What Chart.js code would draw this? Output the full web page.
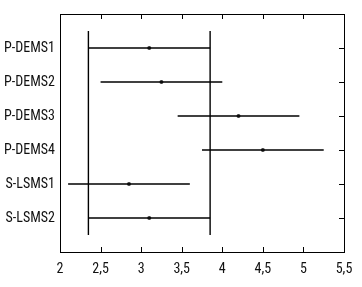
<!DOCTYPE html>
<html><head><meta charset="utf-8">
<script src="https://cdn.jsdelivr.net/npm/chart.js@4"></script>
<style>html,body{margin:0;padding:0;background:#fff}</style>
</head><body>
<canvas id="c" width="362" height="287"></canvas>
<script>
const categories = ['P-DEMS1','P-DEMS2','P-DEMS3','P-DEMS4','S-LSMS1','S-LSMS2'];
const means = [3.1, 3.25, 4.2, 4.5, 2.85, 3.1];
const lower = [2.35, 2.5, 3.45, 3.75, 2.1, 2.35];
const upper = [3.85, 4.0, 4.95, 5.25, 3.6, 3.85];
const refLines = [2.35, 3.85];
const refSpan = [0.5, 6.5];
const xMin = 2, xMax = 5.5, xStep = 0.5;

const FONT = "Roboto, sans-serif";

const datasets = [];
categories.forEach((c, i) => {
  datasets.push({
    data: [{x: lower[i], y: i + 1}, {x: upper[i], y: i + 1}],
    showLine: true, borderColor: '#000', borderWidth: 1.4, pointRadius: 0
  });
});
refLines.forEach(v => {
  datasets.push({
    data: [{x: v, y: refSpan[0]}, {x: v, y: refSpan[1]}],
    showLine: true, borderColor: '#000', borderWidth: 1.4, pointRadius: 0
  });
});
datasets.push({
  data: means.map((m, i) => ({x: m, y: i + 1})),
  showLine: false, pointRadius: 2, pointBackgroundColor: '#333', pointBorderWidth: 0
});

const frame = {
  id: 'frame',
  afterDraw(chart) {
    const {ctx, chartArea: a, scales} = chart;
    ctx.save();
    ctx.strokeStyle = '#000';
    ctx.lineWidth = 1;
    ctx.strokeRect(Math.round(a.left) + 0.5, Math.round(a.top) + 0.5, Math.round(a.right - a.left), Math.round(a.bottom - a.top));
    ctx.beginPath();
    scales.x.ticks.forEach(t => {
      const px = Math.round(scales.x.getPixelForValue(t.value)) + 0.5;
      ctx.moveTo(px, a.bottom); ctx.lineTo(px, a.bottom - 5);
      ctx.moveTo(px, a.top); ctx.lineTo(px, a.top + 5);
    });
    scales.y.ticks.forEach(t => {
      const py = Math.round(scales.y.getPixelForValue(t.value)) + 0.5;
      ctx.moveTo(a.right, py); ctx.lineTo(a.right - 5, py);
    });
    ctx.stroke();
    ctx.restore();
  }
};

new Chart(document.getElementById('c'), {
  type: 'scatter',
  data: {datasets},
  options: {
    responsive: false,
    animation: false,
    layout: {padding: {left: 0, top: 14, right: 18, bottom: 0}},
    plugins: {legend: {display: false}, tooltip: {enabled: false}},
    scales: {
      x: {
        type: 'linear', min: xMin, max: xMax,
        grid: {display: false, drawTicks: false}, border: {display: false},
        afterFit: s => { s.height = 35; },
        ticks: {
          stepSize: xStep, padding: 9, color: '#111', maxRotation: 0,
          font: {family: FONT, size: 14, weight: 'condensed'},
          callback: v => String(v).replace('.', ',')
        }
      },
      y: {
        type: 'linear', reverse: true, min: 0, max: 7,
        grid: {display: false, drawTicks: false}, border: {display: false},
        afterFit: s => { s.width = 60; },
        afterBuildTicks: s => { s.ticks = categories.map((c, i) => ({value: i + 1})); },
        ticks: {
          padding: 5, color: '#111',
          font: {family: FONT, size: 14, weight: 'condensed'},
          callback: v => categories[v - 1]
        }
      }
    }
  },
  plugins: [frame]
});
</script>
</body></html>
